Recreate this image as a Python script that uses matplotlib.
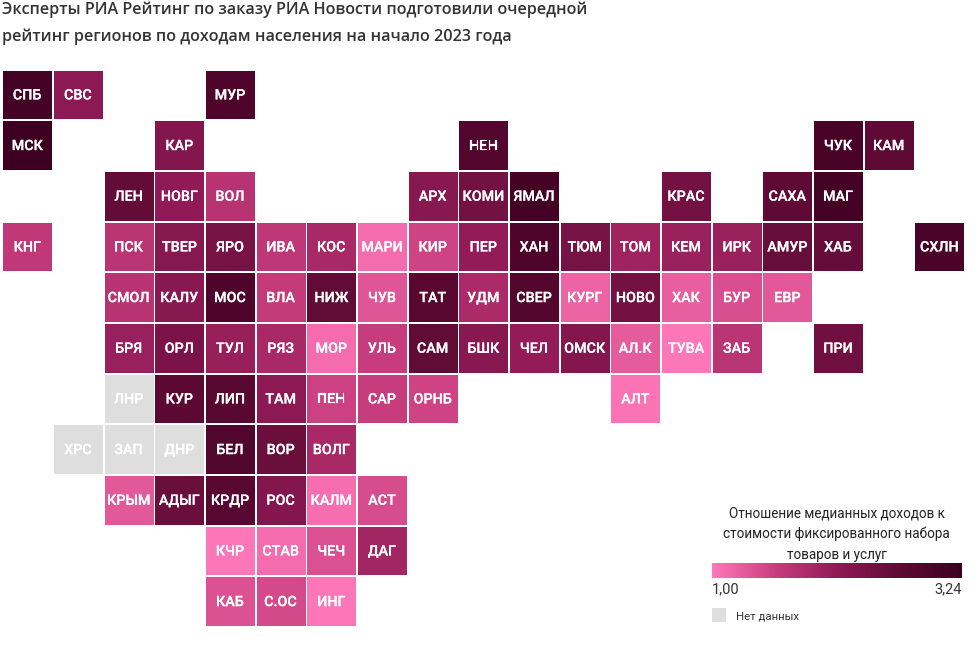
import matplotlib
matplotlib.use("Agg")
import matplotlib.pyplot as plt
import matplotlib.patheffects as pe
from matplotlib.colors import LinearSegmentedColormap, Normalize
from matplotlib.cm import ScalarMappable

names_0 = ["СПБ","СВС","МУР"]; cols_0 = [0,1,4]; vals_0 = [3.12,2.15,2.95]
names_1 = ["МСК","КАР","НЕН","ЧУК","КАМ"]; cols_1 = [0,3,9,16,17]; vals_1 = [3.24,2.25,2.85,3.05,2.7]
names_2 = ["ЛЕН","НОВГ","ВОЛ","АРХ","КОМИ","ЯМАЛ","КРАС","САХА","МАГ"]
cols_2 = [2,3,4,8,9,10,13,15,16]; vals_2 = [2.62,2.12,1.72,2.2,2.45,3.12,2.45,2.7,3.12]
names_3 = ["КНГ","ПСК","ТВЕР","ЯРО","ИВА","КОС","МАРИ","КИР","ПЕР","ХАН","ТЮМ","ТОМ","КЕМ","ИРК","АМУР","ХАБ","СХЛН"]
cols_3 = [0,2,3,4,5,6,7,8,9,10,11,12,13,14,15,16,18]
vals_3 = [1.64,1.7,2.22,2.4,1.66,1.88,1.12,1.5,2.08,2.95,2.4,1.98,2.0,2.0,2.58,2.6,3.0]
names_4 = ["СМОЛ","КАЛУ","МОС","ВЛА","НИЖ","ЧУВ","ТАТ","УДМ","СВЕР","КУРГ","НОВО","ХАК","БУР","ЕВР"]
cols_4 = [2,3,4,5,6,7,8,9,10,11,12,13,14,15]
vals_4 = [1.72,2.2,2.95,1.6,2.65,1.33,2.8,1.85,2.85,1.2,2.45,1.24,1.4,1.3]
names_5 = ["БРЯ","ОРЛ","ТУЛ","РЯЗ","МОР","УЛЬ","САМ","БШК","ЧЕЛ","ОМСК","АЛ.К","ТУВА","ЗАБ","ПРИ"]
cols_5 = [2,3,4,5,6,7,8,9,10,11,12,13,14,16]
vals_5 = [2.03,2.35,2.05,1.88,1.12,1.58,2.65,2.2,2.08,2.25,1.27,1.02,1.7,2.48]
names_6 = ["ЛНР","КУР","ЛИП","ТАМ","ПЕН","САР","ОРНБ","АЛТ"]
cols_6 = [2,3,4,5,6,7,8,12]; vals_6 = [None,2.75,2.8,2.15,1.52,1.58,1.5,1.05]
names_7 = ["ХРС","ЗАП","ДНР","БЕЛ","ВОР","ВОЛГ"]
cols_7 = [1,2,3,4,5,6]; vals_7 = [None,None,None,2.9,2.55,1.88]
names_8 = ["КРЫМ","АДЫГ","КРДР","РОС","КАЛМ","АСТ"]
cols_8 = [2,3,4,5,6,7]; vals_8 = [1.3,2.55,2.8,2.25,1.1,1.42]
names_9 = ["КЧР","СТАВ","ЧЕЧ","ДАГ"]; cols_9 = [4,5,6,7]; vals_9 = [1.02,1.12,1.38,1.93]
names_10 = ["КАБ","С.ОС","ИНГ"]; cols_10 = [4,5,6]; vals_10 = [1.37,1.45,1.02]

rows = [(names_0,cols_0,vals_0),(names_1,cols_1,vals_1),(names_2,cols_2,vals_2),
        (names_3,cols_3,vals_3),(names_4,cols_4,vals_4),(names_5,cols_5,vals_5),
        (names_6,cols_6,vals_6),(names_7,cols_7,vals_7),(names_8,cols_8,vals_8),
        (names_9,cols_9,vals_9),(names_10,cols_10,vals_10)]

title_lines = ["Эксперты РИА Рейтинг по заказу РИА Новости подготовили очередной",
               "рейтинг регионов по доходам населения на начало 2023 года"]
legend_lines = ["Отношение медианных доходов к","стоимости фиксированного набора","товаров и услуг"]
vmin, vmax = 1.00, 3.24

W, H = 978, 647
cmap = LinearSegmentedColormap.from_list("rd", ["#ff78b9","#c83d7d","#8f1a55","#5f0a35","#3d0020"])
norm = Normalize(vmin, vmax)

fig = plt.figure(figsize=(W/100, H/100), dpi=100, facecolor="white")
ax = fig.add_axes([0,0,1,1])
pitch = 50.67
ax.set_xlim(-27.8/pitch, (W-27.8)/pitch)
ax.set_ylim((H-95)/pitch, -95/pitch)
ax.axis("off")

for r,(ns,cs,vs) in enumerate(rows):
    for n,c,v in zip(ns,cs,vs):
        col = "#dedede" if v is None else cmap(norm(v))
        ax.bar(c, 0.965, width=0.965, bottom=r-0.4825, color=col, linewidth=0)
        ax.annotate(n, (c, r), xytext=(-0.45, 0.8), textcoords="offset points",
                    ha="center", va="center_baseline", color="white", fontsize=10.3,
                    family="Roboto", weight="medium",
                    path_effects=[pe.withStroke(linewidth=0.12, foreground="white")])

def px(x,y,s,**k):
    fig.text(x/W, 1-y/H, s, **k)

for y,s in zip([10,36.5], title_lines):
    px(2, y, s, family="Open Sans", weight="semibold", fontsize=11.6, color="#333333", va="center", ha="left")
for y,s in zip([514,534,554.5], legend_lines):
    px(836.5, y, s, family="Roboto", fontsize=9.75, color="#222222", va="center", ha="center")

cax = fig.add_axes([712/W, 1-578/H, 250/W, 15/H])
cb = fig.colorbar(ScalarMappable(norm=norm, cmap=cmap), cax=cax, orientation="horizontal")
cb.set_ticks([]); cb.outline.set_visible(False)
px(712, 589, "1,00", family="Roboto", fontsize=10.5, color="#333333", va="center", ha="left")
px(961.5, 589, "3,24", family="Roboto", fontsize=10.5, color="#333333", va="center", ha="right")

nax = fig.add_axes([712/W, 1-622/H, 14/W, 14/H]); nax.set_facecolor("#dedede")
nax.set_xticks([]); nax.set_yticks([])
for s in nax.spines.values(): s.set_visible(False)
px(736, 616.5, "Нет данных", family="Roboto", fontsize=8.2, color="#333333", va="center", ha="left")

fig.savefig("out.png", dpi=100)
